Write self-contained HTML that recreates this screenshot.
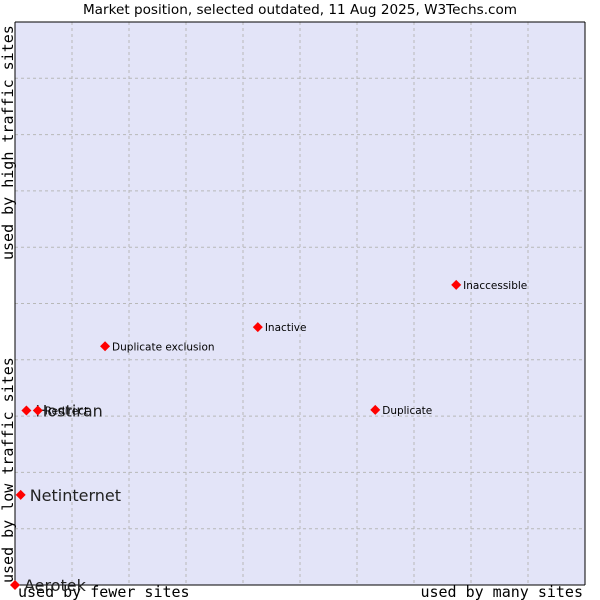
<!DOCTYPE html>
<html><head><meta charset="utf-8"><style>
body{margin:0;background:#fff;width:600px;height:600px;overflow:hidden}
svg{display:block}
</style></head><body>
<svg width="600" height="600" xmlns="http://www.w3.org/2000/svg">
<text x="300" y="14" text-anchor="middle" font-family="DejaVu Sans, sans-serif" font-size="13.6" fill="#000">Market position, selected outdated, 11 Aug 2025, W3Techs.com</text>
<rect x="15" y="22" width="570" height="563" fill="#e3e4f8"/>
<g id="grid"></g>
<line x1="15" y1="22" x2="15" y2="585" stroke="#000"/>
<line x1="15" y1="585" x2="585" y2="585" stroke="#000"/>
<line x1="15" y1="22" x2="585" y2="22" stroke="#000"/>
<line x1="585" y1="22" x2="585" y2="585" stroke="#000"/>
<text x="18" y="597" font-family="DejaVu Sans Mono, monospace" font-size="15">used by fewer sites</text>
<text x="583" y="597" text-anchor="end" font-family="DejaVu Sans Mono, monospace" font-size="15">used by many sites</text>
<text transform="translate(13,583) rotate(-90)" font-family="DejaVu Sans Mono, monospace" font-size="15">used by low traffic sites</text>
<text transform="translate(13,260) rotate(-90)" font-family="DejaVu Sans Mono, monospace" font-size="15">used by high traffic sites</text>
<g id="marks"></g>
</svg>
<script>
const names = ["Aerotek","Netinternet","Hostiran","Redirect","Duplicate exclusion","Inactive","Duplicate","Inaccessible"];
const xVals = [0,1,2,4,15.8,42.6,63.2,77.4];
const yVals = [0,16,31,31,42.4,45.8,31.1,53.3];
const bigLabel = [true,true,true,false,false,false,false,false];
const X0=15,X1=585,Y0=585,Y1=22;
const xs=v=>X0+v/100*(X1-X0);
const ys=v=>Y0-v/100*(Y0-Y1);
const NS="http://www.w3.org/2000/svg";
const grid=document.getElementById('grid');
for(let i=1;i<10;i++){
  const l=document.createElementNS(NS,'line');
  
  
  l.setAttribute('x1',xs(i*10));l.setAttribute('x2',xs(i*10));
  l.setAttribute('y1',Y1);l.setAttribute('y2',Y0);
  l.setAttribute('stroke','#b8b8b8');l.setAttribute('stroke-dasharray','3,3');
  grid.appendChild(l);
  const h=document.createElementNS(NS,'line');
  
  
  h.setAttribute('y1',ys(i*10));h.setAttribute('y2',ys(i*10));
  h.setAttribute('x1',X0);h.setAttribute('x2',X1);
  h.setAttribute('stroke','#b8b8b8');h.setAttribute('stroke-dasharray','3,3');
  grid.appendChild(h);
}
const marks=document.getElementById('marks');
names.forEach((n,i)=>{
  const x=xs(xVals[i]),y=ys(yVals[i]);
  const p=document.createElementNS(NS,'polygon');
  
  
  p.setAttribute('points',`${x},${y-5} ${x+5},${y} ${x},${y+5} ${x-5},${y}`);
  p.setAttribute('fill','#f00');
  marks.appendChild(p);
  const t=document.createElementNS(NS,'text');
  
  
  t.setAttribute('font-family','DejaVu Sans, sans-serif');
  if(bigLabel[i]){t.setAttribute('x',x+9);t.setAttribute('y',y+6);t.setAttribute('font-size','16');t.setAttribute('fill','#222');}
  else{t.setAttribute('x',x+7);t.setAttribute('y',y+4);t.setAttribute('font-size','10.5');t.setAttribute('fill','#000');}
  t.textContent=n;
  marks.appendChild(t);
});
</script>
</body></html>
